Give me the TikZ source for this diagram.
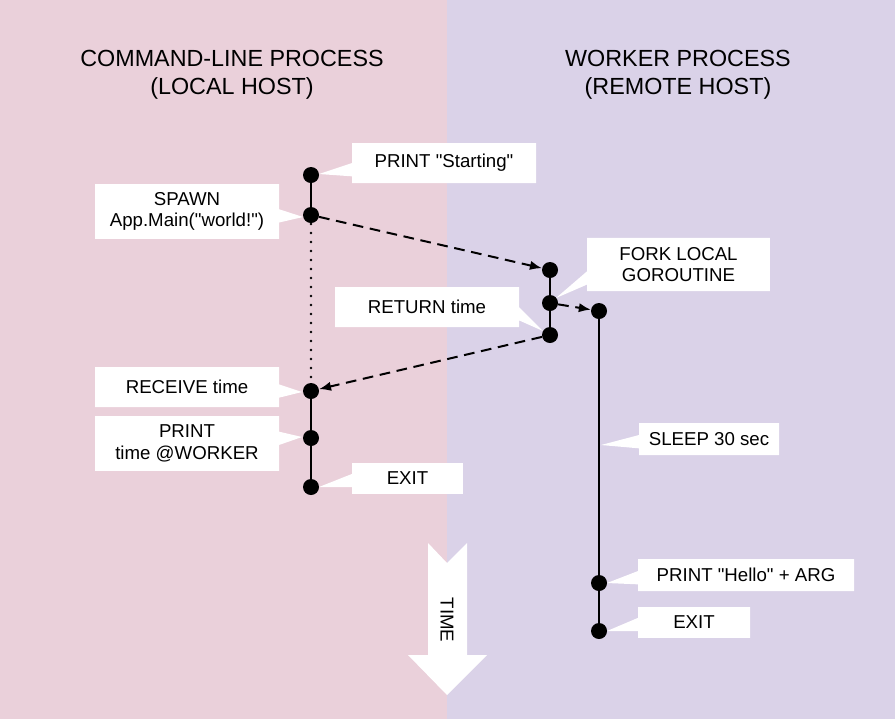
\documentclass[tikz,border=0pt]{standalone}
\usepackage{fontspec}
\setmainfont{Liberation Sans}[Ligatures=TeXOff]
\usetikzlibrary{shapes.callouts,arrows.meta}
\definecolor{pinkbg}{RGB}{234,208,218}
\definecolor{lavbg}{RGB}{218,210,232}
\tikzset{
  dot/.style={circle,fill=black,inner sep=0pt,minimum size=12pt},
  lbl/.style={rectangle callout,fill=white,draw=none,inner sep=0pt,align=center,
    font=\fontsize{14}{16}\selectfont,callout pointer width=10pt},
  ttl/.style={align=center,font=\fontsize{17.5}{21}\selectfont},
  tline/.style={line width=1.5pt},
  msg/.style={line width=1.5pt,dash pattern=on 8pt off 5pt,-{Latex[length=9pt,width=7pt]}},
  dotline/.style={line width=2pt,line cap=round,dash pattern=on 0pt off 6.75pt}
}
\begin{document}
\begin{tikzpicture}[x=0.75pt,y=-0.75pt]
\useasboundingbox (0,0) rectangle (895,719);
\fill[pinkbg] (0,0) rectangle (447,719);
\fill[lavbg] (447,0) rectangle (895,719);

\node[ttl] (tl) at (232,75) {COMMAND-LINE PROCESS\\(LOCAL HOST)};
\node[ttl] (tr) at (678,75) {WORKER PROCESS\\(REMOTE HOST)};

% time arrow
\fill[white] (428,543) -- (447,563) -- (467,543) -- (467,655) -- (487,655) -- (447,695) -- (408,655) -- (428,655) -- cycle;
\node[rotate=-90,font=\fontsize{14}{16}\selectfont] (time) at (447,620) {TIME};

% dot positions
\coordinate (cl1) at (311,175);
\coordinate (cl2) at (311,215);
\coordinate (cl3) at (311,391);
\coordinate (cl4) at (311,438);
\coordinate (cl5) at (311,487);
\coordinate (cm1) at (550,270);
\coordinate (cm2) at (550,303);
\coordinate (cm3) at (550,335);
\coordinate (cr1) at (599,311);
\coordinate (cr2) at (599,583);
\coordinate (cr3) at (599,631);

% timelines
\draw[tline] (cl1) -- (cl2);
\draw[dotline] (cl2) -- (cl3);
\draw[tline] (cl3) -- (cl5);
\draw[tline] (cm1) -- (cm3);
\draw[tline] (cr1) -- (cr3);

% pointer targets
\coordinate (p1) at (319,174);
\coordinate (p2) at (303,217);
\coordinate (p3) at (556,298);
\coordinate (p4) at (543,331);
\coordinate (p5) at (302,392);
\coordinate (p6) at (302,437);
\coordinate (p7) at (319,487);
\coordinate (p8) at (601,445);
\coordinate (p9) at (607,583);
\coordinate (p10) at (607,631);

% labels
\node[lbl,minimum width=138pt,minimum height=30pt,callout absolute pointer={(p1)}] (pstart) at (444,163) {PRINT "Starting"};
\node[lbl,minimum width=138pt,minimum height=41pt,callout absolute pointer={(p2)}] (spawn) at (187,211.5) {SPAWN\\App.Main("world!")};
\node[lbl,minimum width=137pt,minimum height=40pt,callout absolute pointer={(p3)}] (fork) at (678.5,264.5) {FORK LOCAL\\GOROUTINE};
\node[lbl,minimum width=138pt,minimum height=30pt,callout absolute pointer={(p4)}] (ret) at (427,307) {RETURN time};
\node[lbl,minimum width=138pt,minimum height=30pt,callout absolute pointer={(p5)}] (recv) at (187,387) {RECEIVE time};
\node[lbl,minimum width=138pt,minimum height=41pt,callout absolute pointer={(p6)}] (ptime) at (187,443.5) {PRINT\\time @WORKER};
\node[lbl,minimum width=83pt,minimum height=23pt,callout absolute pointer={(p7)}] (exitl) at (407.5,478.5) {EXIT};
\node[lbl,minimum width=105pt,minimum height=24pt,callout absolute pointer={(p8)}] (sleep) at (709,439) {SLEEP 30 sec};
\node[lbl,minimum width=162pt,minimum height=24pt,callout absolute pointer={(p9)}] (hello) at (746,575) {PRINT "Hello" + ARG};
\node[lbl,minimum width=84pt,minimum height=23pt,callout absolute pointer={(p10)}] (exitr) at (694,622.5) {EXIT};

% dots
\node[dot] (l1) at (cl1) {};
\node[dot] (l2) at (cl2) {};
\node[dot] (l3) at (cl3) {};
\node[dot] (l4) at (cl4) {};
\node[dot] (l5) at (cl5) {};
\node[dot] (m1) at (cm1) {};
\node[dot] (m2) at (cm2) {};
\node[dot] (m3) at (cm3) {};
\node[dot] (r1) at (cr1) {};
\node[dot] (r2) at (cr2) {};
\node[dot] (r3) at (cr3) {};

% messages
\draw[msg] (l2) -- (m1);
\draw[msg] (m2) -- (r1);
\draw[msg] (m3) -- (l3);
\end{tikzpicture}
\end{document}
